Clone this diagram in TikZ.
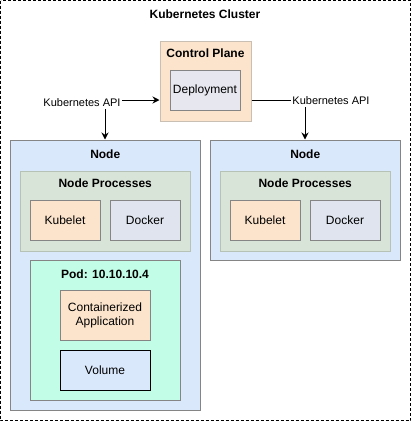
\documentclass[tikz,border=0pt]{standalone}
\usepackage{fontspec}
\setmainfont{Liberation Sans}
\usetikzlibrary{arrows.meta}
\definecolor{peach}{HTML}{FCE4CC}
\definecolor{peachline}{HTML}{C9BFB2}
\definecolor{deplfill}{HTML}{E6E7EF}
\definecolor{nodefill}{HTML}{DAE8FC}
\definecolor{npfill}{HTML}{D9E4D9}
\definecolor{npline}{HTML}{B5C2B5}
\definecolor{dockfill}{HTML}{DFE4EE}
\definecolor{podfill}{HTML}{C2FDE7}
\definecolor{gline}{HTML}{858585}
\tikzset{
  box/.style={draw=gline, line width=1pt, inner sep=0pt, align=center,
    font=\fontsize{12}{14}\selectfont},
  ttl/.style={font=\fontsize{12}{14}\selectfont\bfseries, inner sep=0pt},
  lbl/.style={font=\fontsize{11}{13}\selectfont, fill=white, inner sep=1.5pt},
  conn/.style={line width=1pt, draw=black},
  tip/.style={-{Stealth[length=7pt,width=7pt]}}
}
\begin{document}
\begin{tikzpicture}[x=1pt,y=-1pt]
\useasboundingbox (0,0) rectangle (411,421);
\draw[line width=1pt, dash pattern=on 3pt off 2pt] (0.5,0.5) rectangle (410.5,420.5);
\node[ttl] (clt) at (205,14) {Kubernetes Cluster};

% control plane
\node[box, fill=peach, draw=peachline, minimum width=91pt, minimum height=80pt] (cp) at (205.5,81) {};
\node[ttl] (cpt) at (205.5,53) {Control Plane};
\node[box, fill=deplfill, minimum width=70pt, minimum height=40pt] (dep) at (205,90) {Deployment};

% left node
\node[box, fill=nodefill, minimum width=190.5pt, minimum height=270pt] (n1) at (105.25,275) {};
\node[ttl] (n1t) at (105.25,154) {Node};
\node[box, fill=npfill, draw=npline, minimum width=170.5pt, minimum height=80pt] (np1) at (105.25,211) {};
\node[ttl] (np1t) at (105.25,183) {Node Processes};
\node[box, fill=peach, minimum width=70pt, minimum height=40pt] (k1) at (65,220) {Kubelet};
\node[box, fill=dockfill, minimum width=70pt, minimum height=40pt] (d1) at (145,220) {Docker};
\node[box, fill=podfill, minimum width=150pt, minimum height=140pt] (pod) at (105,330) {};
\node[ttl] (podt) at (105,274) {Pod: 10.10.10.4};
\node[box, fill=peach, minimum width=90pt, minimum height=50pt] (app) at (105,315) {Containerized\\Application};
\node[box, fill=nodefill, draw=black, minimum width=90pt, minimum height=40pt] (vol) at (105,370) {Volume};

% right node
\node[box, fill=nodefill, minimum width=190.5pt, minimum height=120pt] (n2) at (305.25,200) {};
\node[ttl] (n2t) at (305.25,154) {Node};
\node[box, fill=npfill, draw=npline, minimum width=170.5pt, minimum height=80pt] (np2) at (305.25,211) {};
\node[ttl] (np2t) at (305.25,183) {Node Processes};
\node[box, fill=peach, minimum width=70pt, minimum height=40pt] (k2) at (265,220) {Kubelet};
\node[box, fill=dockfill, minimum width=70pt, minimum height=40pt] (d2) at (345,220) {Docker};

% connectors
\coordinate (c1) at (105,100);
\coordinate (c2) at (305,100);
\draw[conn, tip] (c1) -- (cp.west |- c1);
\draw[conn, tip] (c1) -- (n1.north -| c1);
\draw[conn] (cp.east |- c2) -- (c2);
\draw[conn, tip] (c2) -- (n2.north -| c2);
\node[lbl] (l1) at (82,103) {Kubernetes API};
\node[lbl] (l2) at (331,101) {Kubernetes API};
\end{tikzpicture}
\end{document}
